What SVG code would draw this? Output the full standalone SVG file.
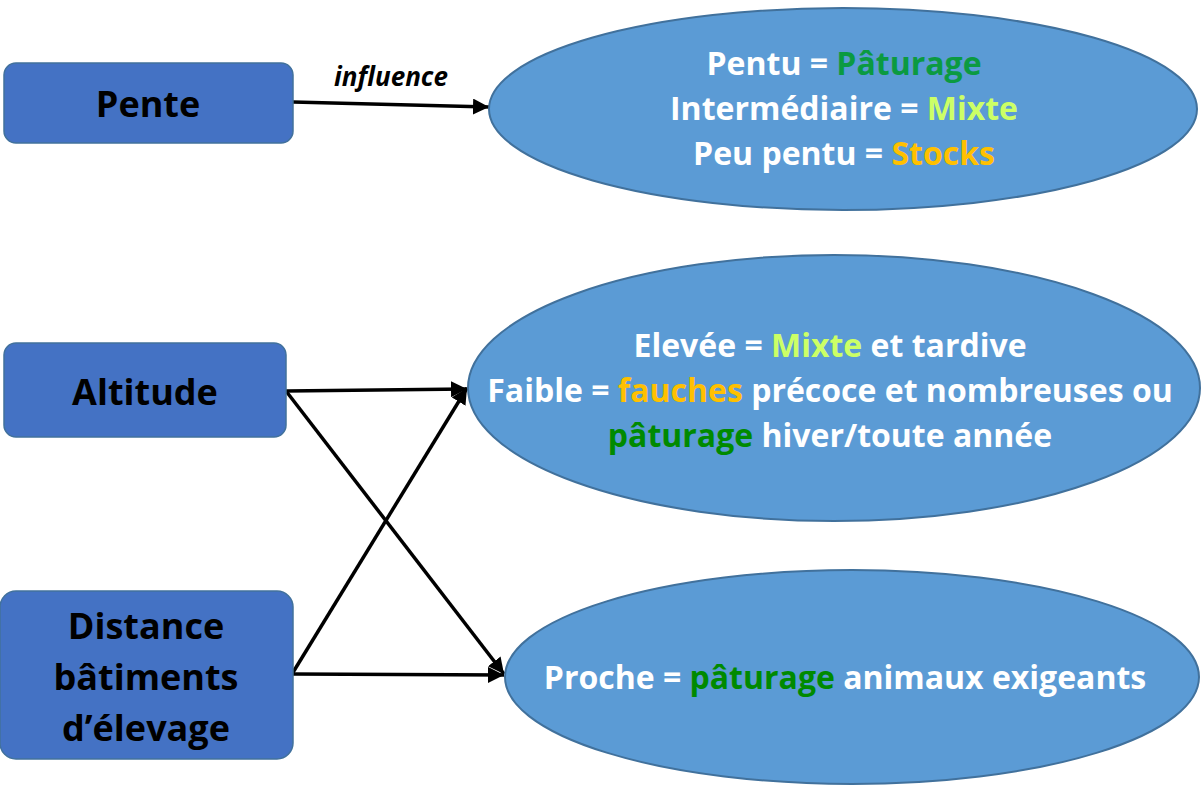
<svg xmlns="http://www.w3.org/2000/svg" width="1202" height="800" viewBox="0 0 1202 800">
<style>
.box{fill:#4472C4;stroke:#41719C;stroke-width:1.5}
.ell{fill:#5B9BD5;stroke:#41719C;stroke-width:2}
.bt{font-family:"Open Sans",Lato,"Liberation Sans",sans-serif;font-weight:bold;font-size:36px;fill:#000;text-anchor:middle}
.et{font-family:"Open Sans",Lato,"Liberation Sans",sans-serif;font-weight:bold;font-size:32px;fill:#fff;text-anchor:middle}
.g1{fill:#0B9A41}.g2{fill:#008A00}.mx{fill:#CCFF66}.or{fill:#FFC000}
.lbl{font-family:"Open Sans",Lato,"Liberation Sans",sans-serif;font-weight:bold;font-style:italic;font-size:26px;fill:#000;text-anchor:middle}
.con{stroke:#000;stroke-width:3.5;fill:none;marker-end:url(#ah)}
</style>
<defs>
<marker id="ah" markerUnits="userSpaceOnUse" markerWidth="18" markerHeight="16" refX="16" refY="8" orient="auto">
<path d="M0,0 L16,8 L0,16 Z" fill="#000"/>
</marker>
</defs>
<g id="connectors">
<path class="con" d="M293,102 L489,107"/>
<path class="con" d="M286,391 L467,389"/>
<path class="con" d="M286,391 L504,674"/>
<path class="con" d="M292,674 L467,388"/>
<path class="con" d="M292,674 L504,675"/>
<text class="lbl" x="391" y="86">influence</text>
</g>
<g id="pente">
<rect class="box" x="4" y="63" width="289" height="80" rx="12"/>
<text class="bt" x="148" y="117">Pente</text>
</g>
<g id="altitude">
<rect class="box" x="4" y="343" width="282" height="94" rx="12"/>
<text class="bt" x="145" y="405">Altitude</text>
</g>
<g id="distance">
<rect class="box" x="0" y="591" width="293" height="168" rx="16"/>
<text class="bt" x="146" y="639">Distance</text>
<text class="bt" x="146" y="690">bâtiments</text>
<text class="bt" x="146" y="741">d’élevage</text>
</g>
<g id="ellipse-pente">
<ellipse class="ell" cx="843" cy="109" rx="354" ry="101"/>
<text class="et" x="844" y="75">Pentu = <tspan class="g1">Pâturage</tspan></text>
<text class="et" x="844" y="120">Intermédiaire = <tspan class="mx">Mixte</tspan></text>
<text class="et" x="844" y="165">Peu pentu = <tspan class="or">Stocks</tspan></text>
</g>
<g id="ellipse-altitude">
<ellipse class="ell" cx="834" cy="388" rx="366" ry="133"/>
<text class="et" x="830" y="357">Elevée = <tspan class="mx">Mixte</tspan> et tardive</text>
<text class="et" x="830" y="402">Faible = <tspan class="or">fauches</tspan> précoce et nombreuses ou</text>
<text class="et" x="830" y="447"><tspan class="g2">pâturage</tspan> hiver/toute année</text>
</g>
<g id="ellipse-distance">
<ellipse class="ell" cx="852" cy="677" rx="347" ry="107"/>
<text class="et" x="845" y="689">Proche = <tspan class="g2">pâturage</tspan> animaux exigeants</text>
</g>
</svg>
